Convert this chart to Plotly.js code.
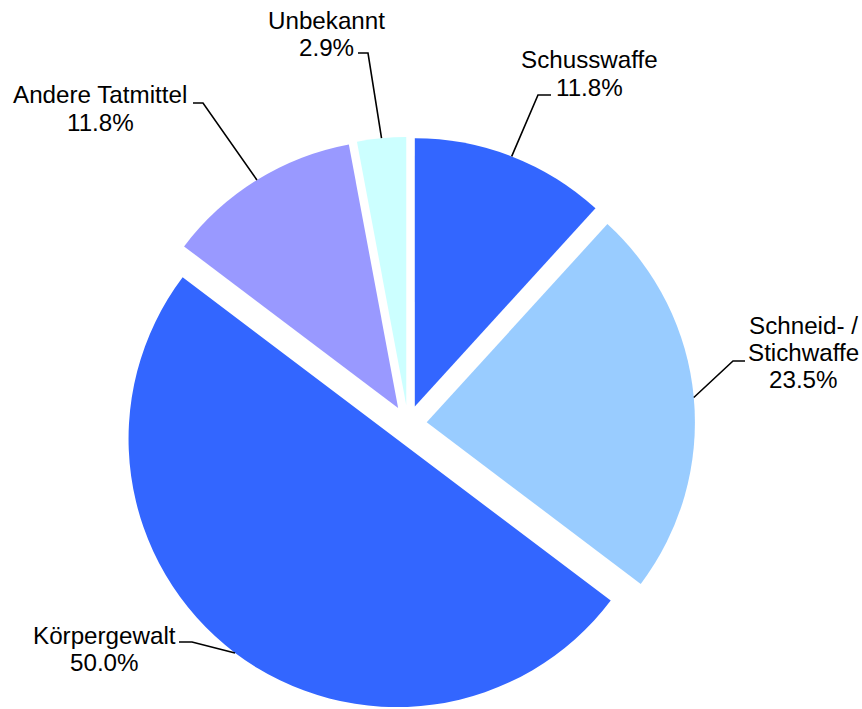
<!DOCTYPE html>
<html><head><meta charset="utf-8">
<script src="https://cdn.plot.ly/plotly-3.0.1.min.js"></script>
<style>html,body{margin:0;padding:0;overflow:hidden;background:#fff}</style>
</head><body><div id="chart" style="width:862px;height:711px"></div>
<script>
// ---- data ----
const categories = ["Schusswaffe", "Schneid- / Stichwaffe", "Körpergewalt", "Andere Tatmittel", "Unbekannt"];
const categoryLines = [["Schusswaffe"], ["Schneid- /", "Stichwaffe"], ["Körpergewalt"], ["Andere Tatmittel"], ["Unbekannt"]];
const counts = [4, 8, 17, 4, 1];
const sliceColors = ["#3366FF", "#99CCFF", "#3366FF", "#9999FF", "#CCFFFF"];

// ---- layout constants (pixels) ----
const W = 862, H = 711;
const PULL = 0.07;
const BOX = 574;              // pie box height incl. pull
const FONT = 24.2, LINE = 27.5;
// label placement: centre x, first baseline y, elbow point, end of horizontal tick
const labelPos = [
  {x: 589, y: 68,  ex: 538, ey: 95,  tx: 551},
  {x: 803, y: 333, ex: 733, ey: 361, tx: 745},
  {x: 104, y: 643, ex: 192, ey: 642, tx: 179},
  {x: 100, y: 103, ex: 203, ey: 103, tx: 193},
  {x: 326, y: 28,  ex: 368, ey: 53,  tx: 358}
];

const total = counts.reduce((a, b) => a + b, 0);
const pctText = counts.map(v => (v / total * 100).toFixed(1) + "%");

const domX = [0, (2 * 408) / W];
const domY = [0, BOX / H];
const cx = W * (domX[0] + domX[1]) / 2;
const cy = H - BOX / 2;
const r = (BOX / 2) / (1 + PULL);

const px = x => x / W, py = y => 1 - y / H;

const shapes = [], annotations = [];
let cum = 0;
counts.forEach((v, i) => {
  const th = 2 * Math.PI * (cum + v / 2) / total;
  cum += v;
  const ax = cx + (1 + PULL) * r * Math.sin(th);
  const ay = cy - (1 + PULL) * r * Math.cos(th);
  const L = labelPos[i];
  shapes.push({
    type: "path", xref: "paper", yref: "paper",
    path: `M${px(ax)},${py(ay)} L${px(L.ex)},${py(L.ey)} L${px(L.tx)},${py(L.ey)}`,
    line: {color: "#000", width: 1.6}
  });
  const lines = categoryLines[i].concat([pctText[i]]);
  lines.forEach((t, k) => {
    annotations.push({
      xref: "paper", yref: "paper", x: px(L.x), y: py(L.y + k * LINE - 8),
      xanchor: "center", yanchor: "middle", showarrow: false, text: t,
      font: {family: "Liberation Sans, Arial, sans-serif", size: FONT, color: "#000"}
    });
  });
});

const trace = {
  type: "pie", labels: categories, values: counts, sort: false,
  direction: "clockwise", rotation: 0, pull: PULL,
  marker: {colors: sliceColors, line: {width: 0}},
  textinfo: "none", hoverinfo: "label+percent",
  domain: {x: domX, y: domY}
};

Plotly.newPlot("chart", [trace], {
  width: W, height: H, margin: {l: 0, r: 0, t: 0, b: 0},
  showlegend: false, paper_bgcolor: "#fff",
  shapes: shapes, annotations: annotations
}, {displayModeBar: false, staticPlot: true});
</script></body></html>
